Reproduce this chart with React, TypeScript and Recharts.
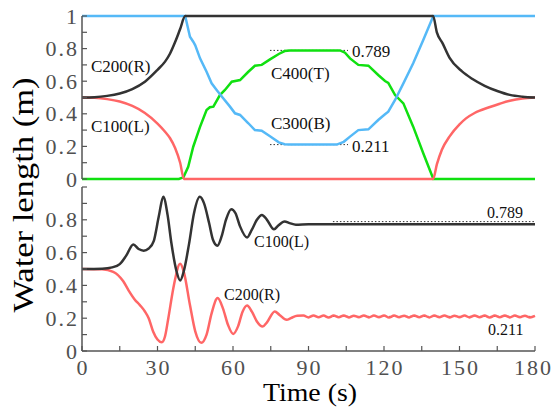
import React from 'react';
import { LineChart, Line, XAxis, YAxis } from 'recharts';

// ---- top panel: water columns in the closed U-tube ----
const topTimeC200 = [0, 5, 10, 15, 20, 25, 30, 33, 35, 37, 39, 41, 139.5, 141, 143.3, 146, 151, 155, 160, 165, 170, 175, 180];
const topC200 = [0.5, 0.502, 0.51, 0.525, 0.552, 0.597, 0.67, 0.72, 0.77, 0.84, 0.92, 1, 1, 0.9, 0.832, 0.745, 0.66, 0.615, 0.572, 0.54, 0.516, 0.505, 0.5];

const topTimeC100 = [0, 5, 10, 15, 20, 25, 30, 33, 35, 37, 39, 40.5, 139.5, 141, 143, 146, 150, 152.6, 156, 161.8, 166, 170, 175, 180];
const topC100 = [0.5, 0.498, 0.49, 0.475, 0.448, 0.405, 0.34, 0.29, 0.25, 0.19, 0.1, 0, 0, 0.09, 0.18, 0.26, 0.335, 0.372, 0.405, 0.44, 0.462, 0.48, 0.494, 0.5];

const topTimeC300 = [0, 41, 42.9, 44.2, 45, 46.9, 49.5, 51.5, 53.5, 56.1, 58.8, 60.8, 62.8, 66.1, 68.7, 71.4, 74.7, 78.2, 80.5, 82.6, 101.2, 104, 106.5, 109.8, 113.8, 117.7, 120.4, 121.7, 124.4, 127.7, 131.6, 135.6, 139.6, 180];
const topC300 = [1, 1, 0.873, 0.842, 0.82, 0.74, 0.658, 0.587, 0.546, 0.495, 0.444, 0.403, 0.393, 0.342, 0.3, 0.296, 0.262, 0.225, 0.213, 0.211, 0.211, 0.228, 0.26, 0.3, 0.305, 0.362, 0.397, 0.413, 0.485, 0.587, 0.71, 0.853, 1, 1];

const topTimeC400 = [0, 38.5, 40.3, 42.2, 44.2, 46.9, 49.5, 50.8, 52.2, 54.8, 56.8, 59.5, 62.8, 66.1, 68.7, 71.4, 74.7, 78.2, 80.5, 82.6, 102.5, 104.5, 106.5, 109.8, 113.8, 117.7, 120.4, 121.7, 124.4, 127.7, 131.6, 135.6, 139.6, 180];
const topC400 = [0, 0, 0.01, 0.075, 0.198, 0.32, 0.423, 0.44, 0.444, 0.515, 0.546, 0.597, 0.607, 0.658, 0.695, 0.7, 0.734, 0.767, 0.785, 0.789, 0.789, 0.775, 0.74, 0.7, 0.695, 0.638, 0.601, 0.59, 0.515, 0.464, 0.321, 0.158, 0, 0];

const topRefTime = [74.7, 105.7];

// ---- bottom panel: open tube oscillation ----
const botTimeC100 = [0, 8, 12, 15, 17.5, 20.4, 22.5, 24.5, 26.5, 28.5, 30.5, 32.3, 34, 35.5, 37.5, 39, 40.5, 42.5, 44.5, 46.8, 48.5, 50.5, 52, 53.8, 55.5, 57.2, 59.3, 61, 62.8, 65.6, 67.5, 69.5, 71.5, 73.5, 76.3, 78, 80.5, 82.5, 85, 90, 180];
const botC100 = [0.5, 0.502, 0.51, 0.53, 0.58, 0.65, 0.622, 0.612, 0.625, 0.67, 0.82, 0.94, 0.83, 0.66, 0.49, 0.43, 0.49, 0.65, 0.84, 0.94, 0.9, 0.78, 0.68, 0.642, 0.7, 0.8, 0.865, 0.84, 0.76, 0.692, 0.74, 0.8, 0.83, 0.8, 0.742, 0.765, 0.79, 0.78, 0.77, 0.773, 0.773];

const botTimeC200 = [0, 8, 12.4, 16.4, 18.5, 21, 23, 25, 26.5, 28.3, 30, 31.7, 33, 34.3, 36.5, 39, 40.5, 42.9, 45, 47.4, 49.5, 51.5, 53.9, 56, 58, 60.1, 62, 63.8, 65.6, 67.5, 69.5, 71.8, 73.5, 76.6, 78.5, 81.3, 83, 85.5,
  88, 90, 92, 94, 96, 98, 100, 102, 104, 106,
  108, 110, 112, 114, 116, 118, 120, 122, 124, 126,
  128, 130, 132, 134, 136, 138, 140, 142, 144, 146,
  148, 150, 152, 154, 156, 158, 160, 162, 164, 166,
  168, 170, 172, 174, 176, 178, 180];
const botC200 = [0.5, 0.498, 0.483, 0.425, 0.37, 0.313, 0.28, 0.241, 0.2, 0.118, 0.07, 0.053, 0.09, 0.2, 0.4, 0.532, 0.48, 0.28, 0.12, 0.05, 0.1, 0.23, 0.323, 0.26, 0.16, 0.104, 0.15, 0.24, 0.278, 0.24, 0.18, 0.149, 0.175, 0.241, 0.22, 0.19, 0.2, 0.215,
  0.216, 0.205, 0.217, 0.206, 0.216, 0.204, 0.216, 0.206, 0.217, 0.205,
  0.215, 0.206, 0.217, 0.205, 0.216, 0.206, 0.217, 0.204, 0.216, 0.206,
  0.215, 0.205, 0.217, 0.206, 0.216, 0.205, 0.216, 0.206, 0.217, 0.205,
  0.215, 0.206, 0.216, 0.205, 0.217, 0.206, 0.216, 0.204, 0.216, 0.206,
  0.217, 0.205, 0.216, 0.206, 0.215, 0.205, 0.214];

const botRefTime = [99.7, 180];

const steadyLevels = [0.789, 0.211];

const xTicks = [0, 15, 30, 45, 60, 75, 90, 105, 120, 135, 150, 165, 180];
const yTicks = [0, 0.1, 0.2, 0.3, 0.4, 0.5, 0.6, 0.7, 0.8, 0.9, 1];

const FONT = "'Liberation Serif', 'Times New Roman', Times, serif";
const AXIS = '#555555';
const BLACK = '#333333';
const RED = '#ff6666';
const BLUE = '#55b9f7';
const GREEN = '#10e010';

const zip = (ts: number[], vs: number[]) => ts.map((t, i) => ({ t, v: vs[i] }));
const level = (ts: number[], v: number) => ts.map((t) => ({ t, v }));

const axisLine = { stroke: AXIS, strokeWidth: 1.5 };
const tickLine = { stroke: AXIS, strokeWidth: 1.2 };
const tickText = { fontFamily: FONT, fontSize: 22, letterSpacing: 2, fill: '#505050' };

const yTickLabel = (maxLabel: number) => (props: any) => {
  const { x, y, payload } = props;
  const v = payload.value;
  const tenth = Math.round(v * 10);
  if (tenth % 2 !== 0 || v > maxLabel + 1e-9) return <g />;
  const txt = tenth === 0 ? '0' : tenth === 10 ? '1' : v.toFixed(1);
  return (
    <text x={x} y={y} dy={7.5} textAnchor="end" style={tickText}>
      {txt}
    </text>
  );
};

const xTickLabel = (props: any) => {
  const { x, y, payload } = props;
  if (payload.value % 30 !== 0) return <g />;
  const last = payload.value === 180;
  return (
    <text x={last ? 553 : x + 1} y={y} textAnchor={last ? 'end' : 'middle'} style={tickText}>
      {payload.value}
    </text>
  );
};

const frameAxes = (bottomTick: any, bottomHeight: number, maxLabel: number) => [
  <XAxis key="xb" xAxisId="b" type="number" dataKey="t" domain={[0, 180]} ticks={xTicks} interval={0} orientation="bottom"
    height={bottomHeight} tickSize={-5} tickMargin={29} tick={bottomTick} axisLine={axisLine} tickLine={tickLine} />,
  <XAxis key="xt" xAxisId="t" type="number" dataKey="t" domain={[0, 180]} ticks={xTicks} interval={0} orientation="top"
    height={0} tickSize={-5} tick={false} axisLine={axisLine} tickLine={tickLine} />,
  <YAxis key="yl" yAxisId="l" type="number" domain={[0, 1]} ticks={yTicks} interval={0} width={82}
    tickSize={-5} tickMargin={8} tick={yTickLabel(maxLabel)} axisLine={axisLine} tickLine={tickLine} />,
  <YAxis key="yr" yAxisId="r" type="number" domain={[0, 1]} ticks={yTicks} interval={0} orientation="right" width={0}
    tickSize={-5} tick={false} axisLine={axisLine} tickLine={tickLine} />,
];

const series = (data: any[], color: string, key: string, curve: any = 'monotone', width = 2.5, dash?: string) => (
  <Line key={key} xAxisId="b" yAxisId="l" data={data} dataKey="v" type={curve} stroke={color}
    strokeWidth={width} strokeDasharray={dash} dot={false} activeDot={false} isAnimationActive={false} />
);

const label = { fontFamily: FONT, fontSize: 17, fill: '#111' };
const smallLabel = { ...label, fontSize: 16 };

export default function App() {
  return (
    <div style={{ position: 'absolute', left: 0, top: 0, width: 552, height: 410, background: '#fff', fontFamily: FONT }}>
      <div style={{ position: 'absolute', left: 0, top: 0 }}>
        <LineChart width={552} height={194} margin={{ top: 16, right: 17, bottom: 15, left: 0 }}>
          {frameAxes(false, 0, 1)}
          {series(level(topRefTime, steadyLevels[0]), BLACK, 'r1', 'linear', 1, '1.5 2')}
          {series(level(topRefTime, steadyLevels[1]), BLACK, 'r2', 'linear', 1, '1.5 2')}
          {series(zip(topTimeC400, topC400), GREEN, 'c400', 'linear')}
          {series(zip(topTimeC300, topC300), BLUE, 'c300', 'linear')}
          {series(zip(topTimeC100, topC100), RED, 'c100')}
          {series(zip(topTimeC200, topC200), BLACK, 'c200')}
        </LineChart>
      </div>
      <div style={{ position: 'absolute', left: 0, top: 180 }}>
        <LineChart width={552} height={230} margin={{ top: 7, right: 17, bottom: 0, left: 0 }}>
          {frameAxes(xTickLabel, 59, 0.8)}
          {series(level(botRefTime, steadyLevels[0]), BLACK, 'r1', 'linear', 1, '1.5 2')}
          {series(level(botRefTime, steadyLevels[1]), BLACK, 'r2', 'linear', 1, '1.5 2')}
          {series(zip(botTimeC200, botC200), RED, 'c200')}
          {series(zip(botTimeC100, botC100), BLACK, 'c100')}
        </LineChart>
      </div>
      <svg width={552} height={410} style={{ position: 'absolute', left: 0, top: 0, pointerEvents: 'none' }}>
        <text transform="translate(33,195) rotate(-90)" textAnchor="middle"
          style={{ fontFamily: FONT, fontSize: 30, fill: '#000' }}
          textLength={235} lengthAdjust="spacingAndGlyphs">Water length (m)</text>
        <text x={310} y={401} textAnchor="middle" style={{ fontFamily: FONT, fontSize: 25, fill: '#000' }}
          textLength={94} lengthAdjust="spacingAndGlyphs">Time (s)</text>
        <text x={91} y={72} style={label}>C200(R)</text>
        <text x={91} y={132} style={label}>C100(L)</text>
        <text x={271} y={78.5} style={label}>C400(T)</text>
        <text x={271} y={129} style={label}>C300(B)</text>
        <text x={352} y={56.5} style={label}>0.789</text>
        <text x={352} y={151.5} style={label}>0.211</text>
        <text x={254} y={247} style={smallLabel}>C100(L)</text>
        <text x={224} y={300} style={smallLabel}>C200(R)</text>
        <text x={487} y={218} style={smallLabel}>0.789</text>
        <text x={488} y={335} style={smallLabel}>0.211</text>
      </svg>
    </div>
  );
}
